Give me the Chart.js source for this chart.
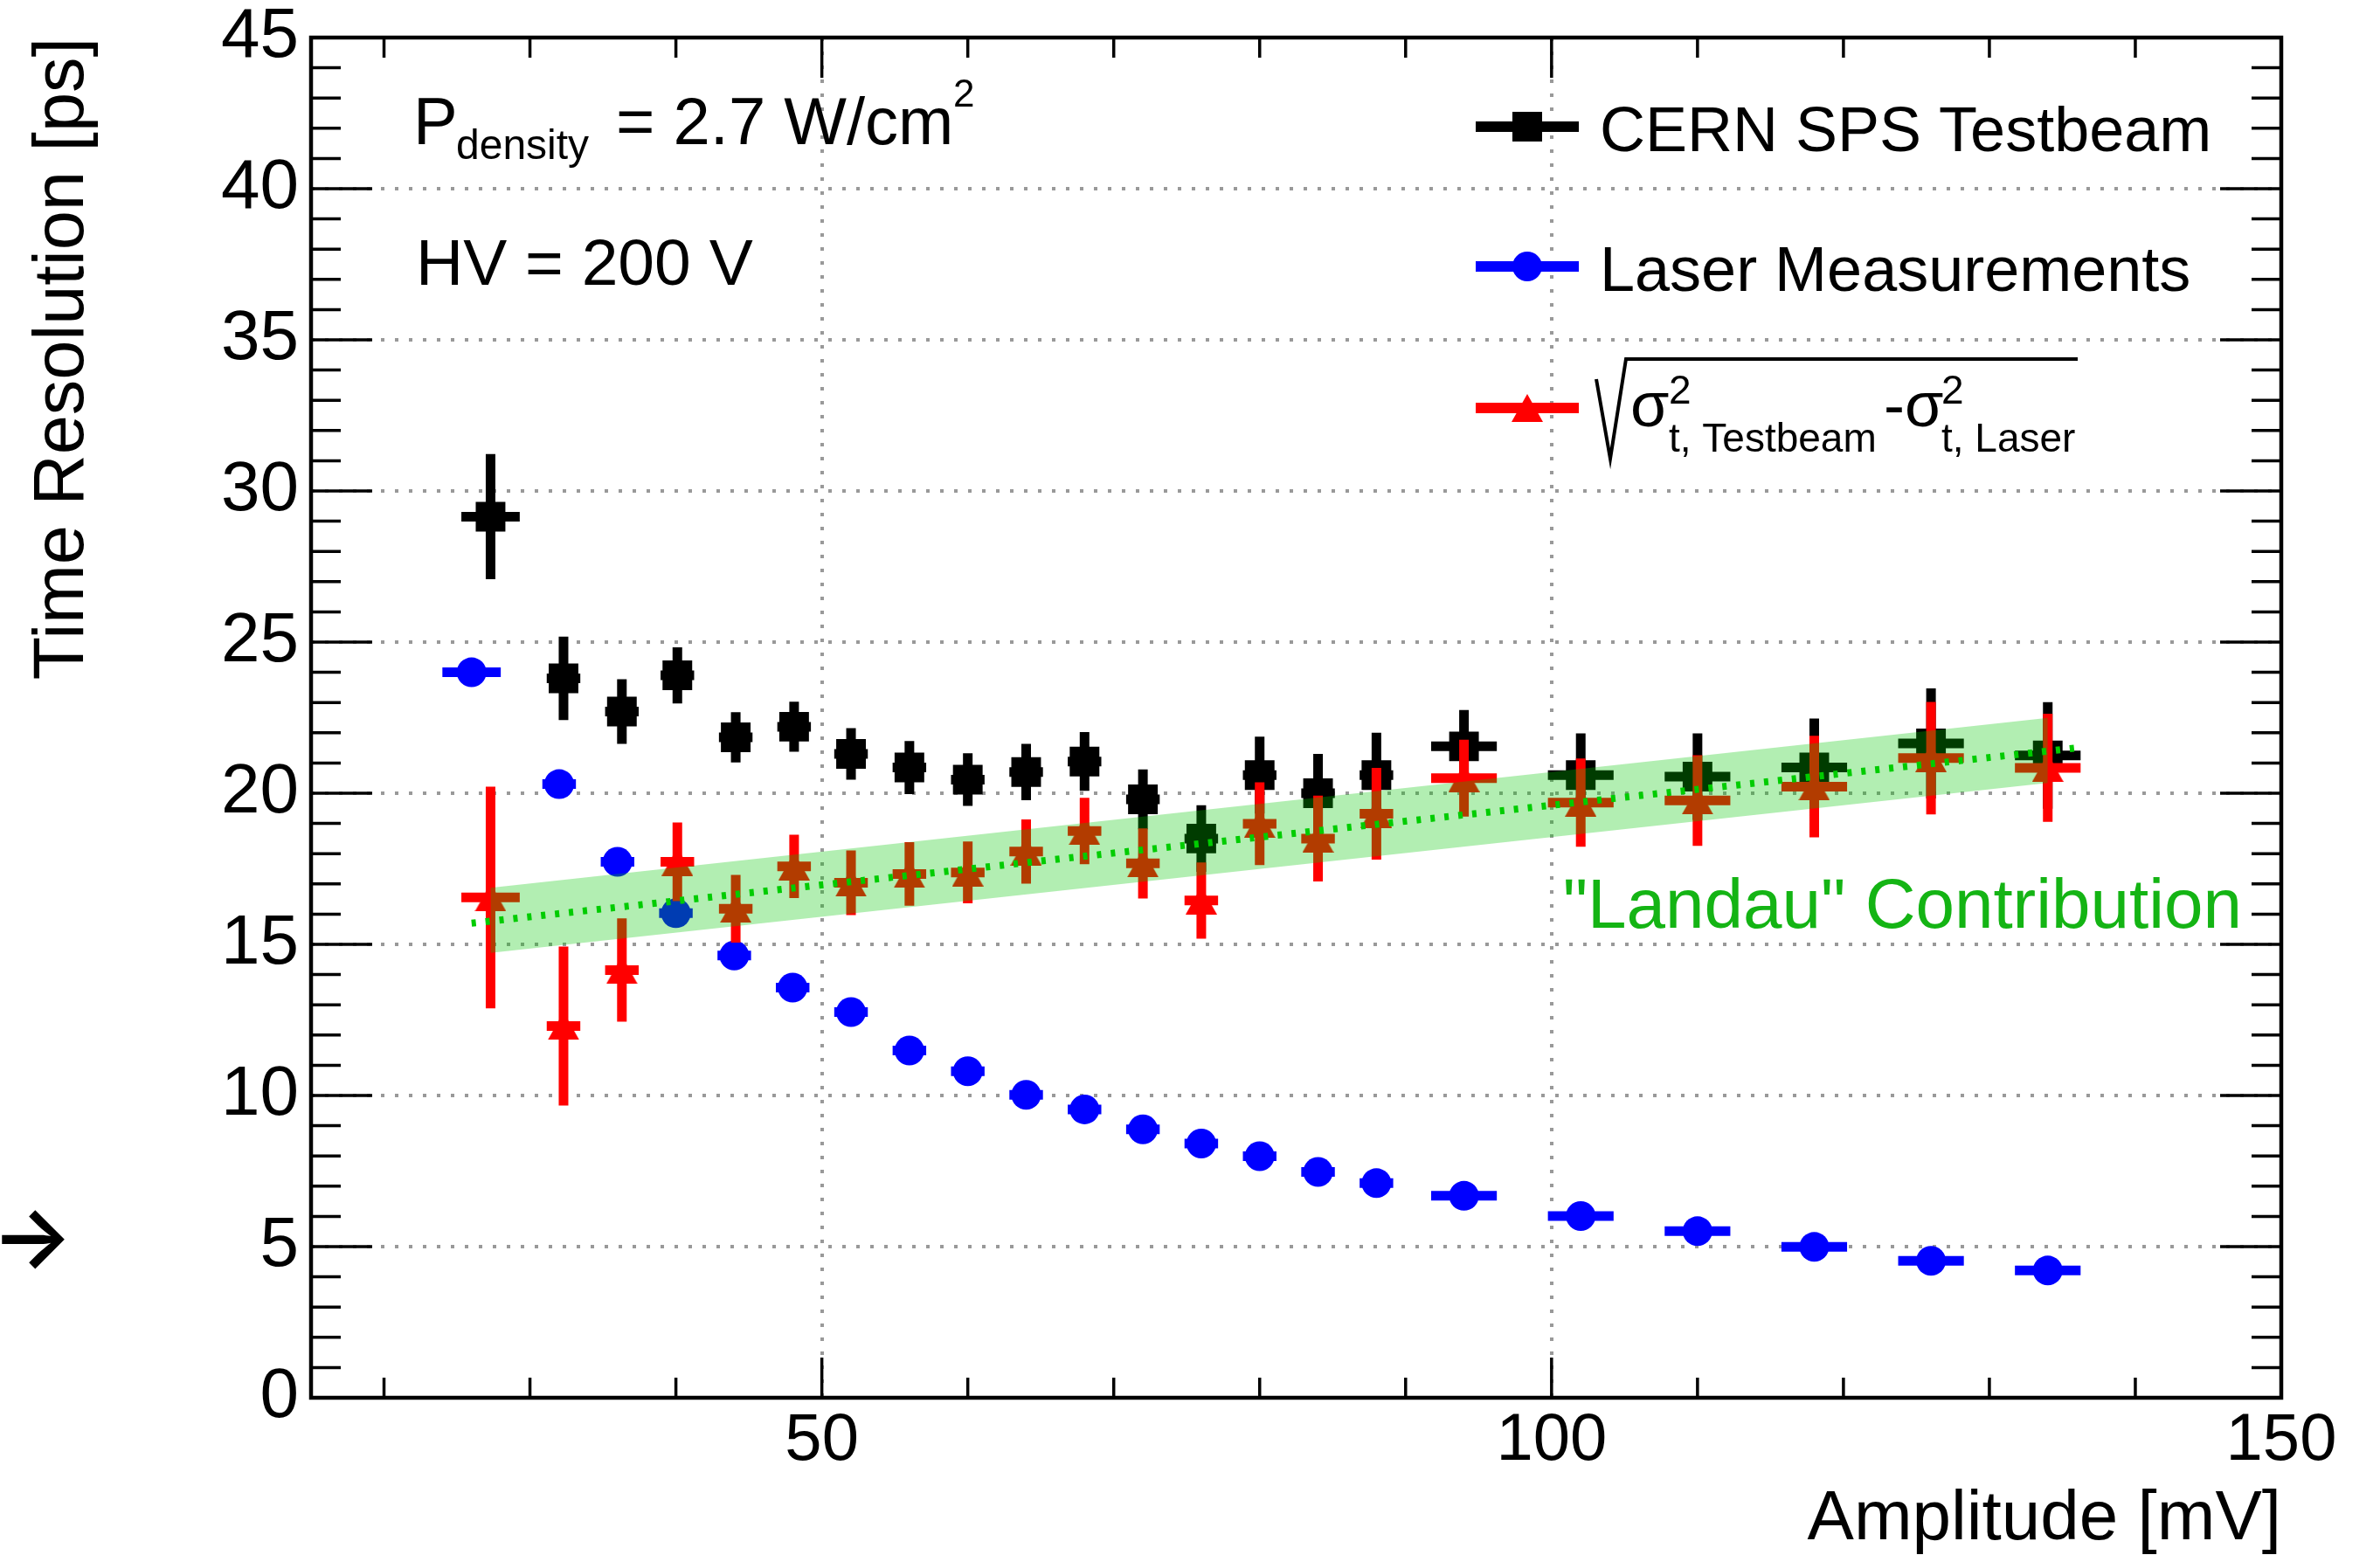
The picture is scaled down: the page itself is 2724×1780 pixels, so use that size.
<!DOCTYPE html>
<html>
<head>
<meta charset="utf-8">
<title>Time Resolution vs Amplitude</title>
<script src="https://cdn.jsdelivr.net/npm/chart.js@4.4.1/dist/chart.umd.min.js"></script>
<style>
  html, body { margin: 0; padding: 0; background: #ffffff; }
  #wrap { width: 2724px; height: 1780px; }
</style>
</head>
<body>
<div id="wrap"><canvas id="chartResolucao" width="2724" height="1780"></canvas></div>
<script>
// amplitude bins [mV]
const tbX    = [27.3, 32.3, 36.3, 40.1, 44.1, 48.1, 52, 56, 60, 64, 68, 72, 76, 80, 84, 88, 94, 102, 110, 118, 126, 134];
const laserX = [26, 32, 36, 40, 44, 48, 52, 56, 60, 64, 68, 72, 76, 80, 84, 88, 94, 102, 110, 118, 126, 134];
const xErr   = [2, 1.15, 1.15, 1.15, 1.15, 1.15, 1.15, 1.15, 1.15, 1.15, 1.15, 1.15, 1.15, 1.15, 1.15, 1.15, 2.25, 2.25, 2.25, 2.25, 2.25, 2.25];

// CERN SPS testbeam [ps]
const tbY   = [29.15, 23.8, 22.7, 23.9, 21.85, 22.2, 21.3, 20.85, 20.45, 20.7, 21.05, 19.8, 18.5, 20.6, 20.0, 20.6, 21.55, 20.6, 20.55, 20.85, 21.65, 21.25];
const tbErr = [2.07, 1.38, 1.07, 0.93, 0.83, 0.83, 0.85, 0.88, 0.87, 0.93, 0.97, 0.99, 1.1, 1.27, 1.3, 1.4, 1.2, 1.38, 1.43, 1.62, 1.82, 1.76];

// laser measurements [ps]
const laserY = [24.0, 20.3, 17.73, 16.03, 14.63, 13.57, 12.76, 11.49, 10.8, 10.02, 9.54, 8.88, 8.41, 7.99, 7.47, 7.1, 6.68, 6.01, 5.51, 4.99, 4.53, 4.21];

// quadratic difference testbeam - laser [ps]
const diffY   = [16.55, 12.3, 14.15, 17.73, 16.18, 17.58, 17.04, 17.33, 17.38, 18.07, 18.75, 17.68, 16.45, 18.99, 18.5, 19.32, 20.5, 19.69, 19.76, 20.22, 21.16, 20.84];
const diffErr = [3.67, 2.63, 1.71, 1.3, 1.12, 1.05, 1.07, 1.05, 1.02, 1.06, 1.1, 1.16, 1.26, 1.37, 1.42, 1.52, 1.27, 1.46, 1.5, 1.68, 1.86, 1.79];

// "Landau" fit line and its band
const fitX      = [26, 136];
const fitY      = [15.7, 21.5];
const bandX     = [27.3, 134];
const bandHigh  = [16.87, 22.49];
const bandLow   = [14.72, 20.34];

// axes
const xTickLabels = [50, 100, 150];
const yTickLabels = [0, 5, 10, 15, 20, 25, 30, 35, 40, 45];
const xGridValues = [50, 100];
const yGridValues = [5, 10, 15, 20, 25, 30, 35, 40];

const FONT = '"Liberation Sans", Arial, Helvetica, sans-serif';

// segments for error bars, separated by gaps
function errorSegments(xs, ys, xe, ye) {
    const pts = [];
    xs.forEach((x, i) => {
        if (ye) {
            pts.push({ x: x, y: ys[i] - ye[i] }, { x: x, y: ys[i] + ye[i] }, { x: x, y: null });
        }
        pts.push({ x: x - xe[i], y: ys[i] }, { x: x + xe[i], y: ys[i] }, { x: x, y: null });
    });
    return pts;
}

function toPoints(xs, ys) {
    return xs.map((x, i) => ({ x: x, y: ys[i] }));
}

// ROOT style triangle (centred on its bounding box)
function trianglePoint(color, w, h) {
    const c = document.createElement('canvas');
    c.width = w; c.height = h;
    const g = c.getContext('2d');
    g.fillStyle = color;
    g.beginPath();
    g.moveTo(w / 2, 0);
    g.lineTo(w, h);
    g.lineTo(0, h);
    g.closePath();
    g.fill();
    return c;
}
const redTriangle = trianglePoint('#ff0000', 36, 32);

function barSet(data, color, order) {
    return {
        data: data, showLine: true, spanGaps: false, borderColor: color, borderWidth: 11,
        borderCapStyle: 'butt', pointRadius: 0, order: order
    };
}

// frame with inward ticks on all four sides
const axisFrame = {
    id: 'axisFrame',
    afterDraw(chart) {
        const { ctx, chartArea: a, scales: { x, y } } = chart;
        const seg = (x1, y1, x2, y2) => { ctx.beginPath(); ctx.moveTo(x1, y1); ctx.lineTo(x2, y2); ctx.stroke(); };
        ctx.save();
        ctx.strokeStyle = '#000';
        ctx.lineWidth = 3.5;
        for (let v = 20; v < 150; v += 10) {
            const px = x.getPixelForValue(v);
            const len = xGridValues.includes(v) ? 46 : 23;
            seg(px, a.bottom, px, a.bottom - len);
            seg(px, a.top, px, a.top + len);
        }
        for (let v = 1; v < 45; v += 1) {
            const py = y.getPixelForValue(v);
            const len = yGridValues.includes(v) ? 70 : 34;
            seg(a.left, py, a.left + len, py);
            seg(a.right, py, a.right - len, py);
        }
        ctx.lineWidth = 4.5;
        ctx.strokeRect(a.left, a.top, a.right - a.left, a.bottom - a.top);
        ctx.restore();
    }
};

// text labels and legend
const notes = {
    id: 'notes',
    afterDraw(chart) {
        const ctx = chart.ctx;
        const text = (s, x, y, size, color, align) => {
            ctx.font = size + 'px ' + FONT;
            ctx.fillStyle = color || '#000';
            ctx.textAlign = align || 'left';
            ctx.textBaseline = 'alphabetic';
            ctx.fillText(s, x, y);
        };
        ctx.save();

        text('P', 473, 165, 76);
        text('density', 522, 182, 48);
        text('= 2.7 W/cm', 705, 165, 76);
        text('2', 1091, 122, 44);
        text('HV = 200 V', 476, 326, 75);

        text('"Landau" Contribution', 2566, 1062, 80, '#14b414', 'right');

        ctx.font = '600 98px Inter';
        ctx.fillStyle = '#000';
        ctx.textAlign = 'left';
        ctx.textBaseline = 'middle';
        ctx.fillText('\u2192', -10, 1421);

        // legend
        const lx1 = 1689, lx2 = 1807, mx = 1748;
        const entries = [
            { y: 145, color: '#000000', label: 'CERN SPS Testbeam' },
            { y: 305, color: '#0000ff', label: 'Laser Measurements' },
            { y: 467, color: '#ff0000', label: null }
        ];
        entries.forEach((e, i) => {
            ctx.fillStyle = e.color;
            ctx.fillRect(lx1, e.y - 6, lx2 - lx1, 12);
            if (i === 0) {
                ctx.fillRect(mx - 17, e.y - 17, 34, 34);
            } else if (i === 1) {
                ctx.beginPath(); ctx.arc(mx, e.y, 17, 0, Math.PI * 2); ctx.fill();
            } else {
                ctx.drawImage(redTriangle, mx - 18, e.y - 16);
            }
            if (e.label) text(e.label, 1831, e.y + 28, 72);
        });

        // sqrt(sigma^2_t,Testbeam - sigma^2_t,Laser)
        ctx.strokeStyle = '#000';
        ctx.lineWidth = 4;
        ctx.beginPath();
        ctx.moveTo(1827, 434);
        ctx.lineTo(1843, 525);
        ctx.lineTo(1861, 411);
        ctx.lineTo(2378, 411);
        ctx.stroke();
        text('\u03c3', 1866, 488, 72);
        text('2', 1910, 462, 46);
        text('t, Testbeam', 1910, 517, 46);
        text('-\u03c3', 2156, 488, 72);
        text('2', 2222, 462, 46);
        text('t, Laser', 2222, 517, 46);

        ctx.restore();
    }
};

const ctxCanvas = document.getElementById('chartResolucao');

new Chart(ctxCanvas, {
    type: 'scatter',
    data: {
        datasets: [
            {
                data: toPoints(fitX, fitY), showLine: true, borderColor: 'rgb(0,204,0)', borderWidth: 8,
                borderDash: [5, 11], borderCapStyle: 'butt', pointRadius: 0, order: 0
            },
            {
                data: toPoints(bandX, bandHigh), showLine: true, borderWidth: 0, borderColor: 'rgba(0,0,0,0)',
                backgroundColor: 'rgba(0,200,0,0.3)', fill: '+1', pointRadius: 0, order: 1
            },
            {
                data: toPoints(bandX, bandLow), showLine: true, borderWidth: 0, borderColor: 'rgba(0,0,0,0)',
                pointRadius: 0, order: 2
            },
            {
                data: toPoints(tbX, diffY), pointStyle: redTriangle, pointRadius: 18,
                backgroundColor: '#ff0000', borderWidth: 0, order: 3
            },
            barSet(errorSegments(tbX, diffY, xErr, diffErr), '#ff0000', 4),
            {
                data: toPoints(laserX, laserY), pointStyle: 'circle', pointRadius: 17,
                backgroundColor: '#0000ff', borderWidth: 0, order: 5
            },
            barSet(errorSegments(laserX, laserY, xErr, null), '#0000ff', 6),
            {
                data: toPoints(tbX, tbY), pointStyle: 'rect', pointRadius: 24,
                backgroundColor: '#000000', borderWidth: 0, order: 7
            },
            barSet(errorSegments(tbX, tbY, xErr, tbErr), '#000000', 8)
        ]
    },
    options: {
        responsive: false,
        animation: false,
        devicePixelRatio: 1,
        layout: { padding: { left: 0, right: 113, top: 43, bottom: 0 } },
        plugins: {
            legend: { display: false },
            tooltip: { enabled: false }
        },
        scales: {
            x: {
                type: 'linear',
                min: 15,
                max: 150,
                afterBuildTicks: (s) => { s.ticks = xTickLabels.map(v => ({ value: v })); },
                afterFit: (s) => { s.height = 180; s.paddingLeft = 0; s.paddingRight = 0; },
                ticks: {
                    color: '#000', padding: 12, maxRotation: 0, autoSkip: false,
                    font: { family: FONT, size: 76, lineHeight: 1 }
                },
                grid: {
                    drawTicks: false, lineWidth: 4,
                    color: (c) => (c.tick && xGridValues.includes(c.tick.value)) ? '#999999' : 'rgba(0,0,0,0)'
                },
                border: { display: false, dash: [4, 12] },
                title: {
                    display: true, text: 'Amplitude [mV]', align: 'end', color: '#000', padding: 0,
                    font: { family: FONT, size: 80, lineHeight: 1 }
                }
            },
            y: {
                type: 'linear',
                min: 0,
                max: 45,
                afterBuildTicks: (s) => { s.ticks = yTickLabels.map(v => ({ value: v })); },
                afterFit: (s) => { s.width = 356; s.paddingTop = 0; s.paddingBottom = 0; },
                ticks: {
                    color: '#000', padding: 14, autoSkip: false,
                    font: { family: FONT, size: 80, lineHeight: 1 }
                },
                grid: {
                    drawTicks: false, lineWidth: 4,
                    color: (c) => (c.tick && yGridValues.includes(c.tick.value)) ? '#999999' : 'rgba(0,0,0,0)'
                },
                border: { display: false, dash: [4, 12] },
                title: {
                    display: true, text: 'Time Resolution [ps]', align: 'end', color: '#000',
                    padding: { top: 32, bottom: 0 },
                    font: { family: FONT, size: 81, lineHeight: 1 }
                }
            }
        }
    },
    plugins: [axisFrame, notes]
});
</script>
</body>
</html>
